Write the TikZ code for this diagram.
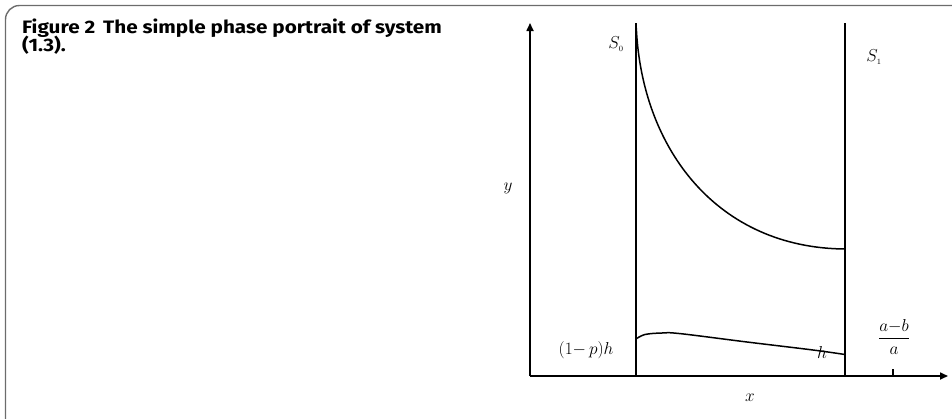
\documentclass[tikz,border=0pt]{standalone}
\usepackage{amsmath}
\usepackage{fontspec}
\newfontfamily\titlefont{Fira Sans}[FakeStretch=1.15]
\usetikzlibrary{arrows.meta}
\begin{document}
\begin{tikzpicture}[x=1pt,y=-1pt,
  ln/.style={line width=1.6pt,black},
  ax/.style={line width=1.6pt,black,-{Triangle[length=8pt,width=7pt]}},
  crv/.style={line width=1.5pt,black},
  lbl/.style={inner sep=0pt,font=\fontsize{16.5}{19}\selectfont},
  ttl/.style={inner sep=0pt,anchor=base west,font=\titlefont\bfseries\fontsize{18}{20}\selectfont}]
\useasboundingbox (0,0) rectangle (952,418);
% frame
\draw[line width=1.4pt,gray!85!black,rounded corners=14pt] (5.5,430) -- (5.5,5.5) -- (965,5.5);
% title
\node[ttl] (t1) at (22,33.5) {Figure 2\, The simple phase portrait of system};
\node[ttl] (t2) at (22,51) {(1.3).};
% axes
\coordinate (O) at (530,376);
\coordinate (ytop) at (530,23);
\coordinate (xend) at (948,376);
\draw[ax] (O) -- (ytop);
\draw[ax] (O) -- (xend);
% separatrices
\coordinate (s0b) at (636,376);
\coordinate (s0t) at (636,23);
\coordinate (s1b) at (845,376);
\coordinate (s1t) at (845,23);
\draw[ln] (s0b) -- (s0t);
\draw[ln] (s1b) -- (s1t);
% tick
\coordinate (tk) at (893,376);
\draw[line width=1.4pt] (tk) -- ++(0,-7);
% curves
\coordinate (u0) at (636.3,28);
\coordinate (u1) at (845,249);
\draw[crv] (u0) .. controls (642,150) and (718,248) .. (u1);
\draw[crv] plot[smooth,tension=0.6] coordinates {(636,339) (645,334.5) (662,333) (680,333.6) (747,342) (813,350) (845,354.5)};
% labels
\node[lbl] (S0) at (616,44) {$S_{\scriptscriptstyle 0}$};
\node[lbl] (S1) at (874,57) {$S_{\scriptscriptstyle 1}$};
\node[lbl] (ylab) at (508,188) {$y$};
\node[lbl] (xlab) at (750,398) {$x$};
\node[lbl] (ph) at (586,350) {$(1{-}\,p)h$};
\node[lbl] (h) at (822,352) {$h$};
\node[lbl] (frac) at (894,337) {$\dfrac{a{-}b}{a}$};
\end{tikzpicture}
\end{document}
